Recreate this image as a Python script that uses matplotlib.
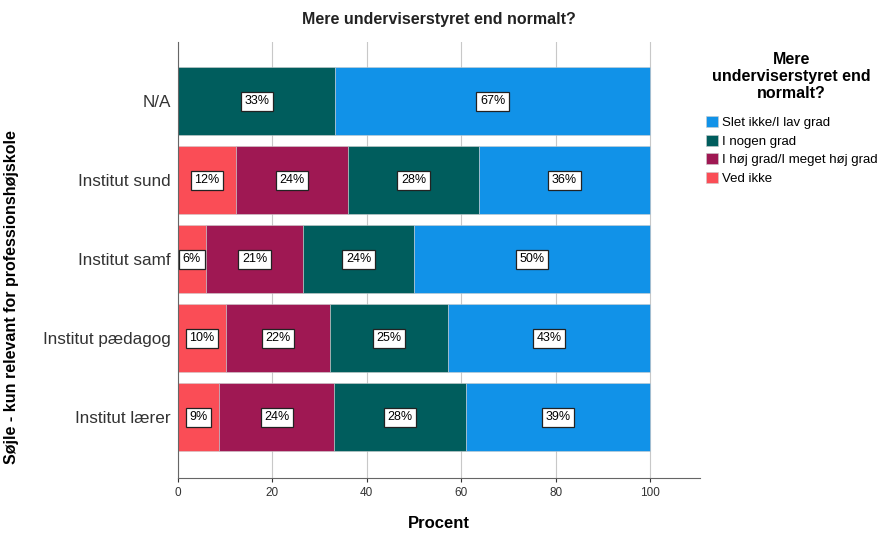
import matplotlib.pyplot as plt
import numpy as np

plt.rcParams["font.family"] = ["Liberation Sans", "DejaVu Sans"]

categories = ["Institut lærer", "Institut pædagog", "Institut samf", "Institut sund", "N/A"]
series = ["Slet ikke/I lav grad", "I nogen grad", "I høj grad/I meget høj grad", "Ved ikke"]
colors = ["#1192e8", "#005d5d", "#9f1853", "#fa4d56"]

ved_ikke = [8.7, 10.2, 5.9, 12.3, 0.0]
hoej = [24.4, 22.0, 20.6, 23.7, 0.0]
nogen = [27.9, 25.0, 23.5, 27.8, 33.3]
lav = [39.0, 42.8, 50.0, 36.2, 66.7]


def main():
    fig = plt.figure(figsize=(8.9, 5.36), dpi=100)
    ax = fig.add_axes([0.2, 0.108, 0.5865, 0.8136])
    y = np.arange(len(categories))

    # stacked from the left: Ved ikke, høj, nogen, lav
    stack = [(ved_ikke, colors[3], series[3]), (hoej, colors[2], series[2]),
             (nogen, colors[1], series[1]), (lav, colors[0], series[0])]
    left = np.zeros(len(categories))
    handles = {}
    for vals, col, name in stack:
        vals = np.array(vals)
        bars = ax.barh(y, vals, left=left, height=0.86, color=col,
                       edgecolor="#cccccc", linewidth=0.4, zorder=2)
        handles[name] = bars
        for yi, l, v in zip(y, left, vals):
            if v > 0:
                ax.text(l + v / 2, yi, f"{v:.0f}%", ha="center", va="center",
                        fontsize=9, zorder=3,
                        bbox=dict(boxstyle="square,pad=0.28", fc="white",
                                  ec="#222222", lw=0.9))
        left += vals

    ax.set_xlim(0, 110.6)
    ax.set_ylim(-0.77, 4.75)
    ax.set_xticks([0, 20, 40, 60, 80, 100])
    ax.set_yticks(y)
    ax.set_yticklabels(categories, fontsize=12.3, color="#333333")
    ax.tick_params(axis="x", labelsize=8.5, colors="#333333", length=3)
    ax.tick_params(axis="y", length=0, pad=5)
    ax.grid(axis="x", color="#c8c8c8", linewidth=0.8, zorder=0)
    ax.set_axisbelow(True)
    for s in ["top", "right"]:
        ax.spines[s].set_visible(False)
    for s in ["left", "bottom"]:
        ax.spines[s].set_color("#666666")

    ax.set_title("Mere underviserstyret end normalt?", fontsize=11.5,
                 fontweight="bold", pad=13, color="#222222")
    ax.set_xlabel("Procent", fontsize=12, fontweight="bold", labelpad=12)
    ax.set_ylabel("Søjle - kun relevant for professionshøjskole", fontsize=11.5,
                  fontweight="bold")
    ax.yaxis.set_label_coords(-0.305, 0.415)

    leg = fig.legend([handles[n] for n in series], series,
                     title="Mere\nunderviserstyret end\nnormalt?",
                     loc="upper left", bbox_to_anchor=(0.787, 0.912),
                     frameon=False, fontsize=9.5, handlelength=0.9,
                     handleheight=0.9, handletextpad=0.3, labelspacing=0.42,
                     borderaxespad=0, alignment="center")
    leg.get_title().set_fontweight("bold")
    leg.get_title().set_fontsize(11.5)
    leg.get_title().set_multialignment("center")
    leg.get_title().set_linespacing(1.15)
    leg._legend_box.sep = 11

    fig.savefig("out.png", dpi=100)


if __name__ == "__main__":
    main()
